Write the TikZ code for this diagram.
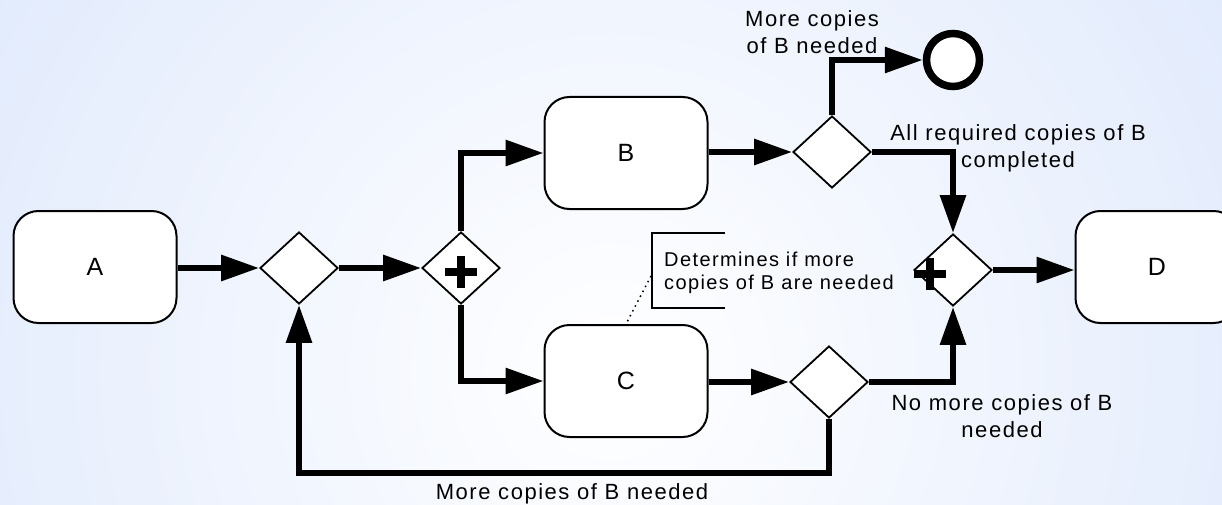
\documentclass[tikz,border=0pt]{standalone}
\usepackage{fontspec}
\setmainfont{Liberation Sans}
\newfontfamily\lblfont[LetterSpace=7]{Liberation Sans}
\usetikzlibrary{shapes.geometric,arrows.meta}
\definecolor{bgblue}{RGB}{210,224,251}
\tikzset{
  task/.style={draw, line width=2pt, fill=white, rounded corners=25pt,
    minimum width=163pt, minimum height=112pt, inner sep=0pt,
    font=\fontsize{25}{30}\selectfont},
  gateway/.style={draw, diamond, line width=1.8pt, fill=white, inner sep=0pt,
    minimum width=78pt, minimum height=72pt},
  endevent/.style={draw, circle, line width=7.5pt, fill=white, inner sep=0pt,
    minimum size=53pt},
  flow/.style={line width=6pt, -{Triangle[length=38pt,width=25pt]}},
  lbl/.style={inner sep=0pt, align=center, font=\lblfont\fontsize{22}{27}\selectfont},
  annot/.style={inner sep=0pt, align=left, font=\lblfont\fontsize{20}{23}\selectfont},
  plussign/.pic={\draw[line width=7.5pt] (-16,0) -- (16,0) (0,-16) -- (0,16);}
}
\begin{document}
\begin{tikzpicture}[x=1pt,y=-1pt]
\useasboundingbox (0,0) rectangle (1222,505);
\begin{scope}
  \clip (0,0) rectangle (1222,505);
  \shade[inner color=white, outer color=bgblue] (610,370) circle (1120);
\end{scope}

% nodes
\node[task] (A) at (95,267) {A};
\node[gateway] (G1) at (299,268) {};
\node[gateway] (P1) at (461,268) {};
\pic at (461,272) {plussign};
\node[task] (B) at (626,153) {B};
\node[task] (C) at (626,381) {C};
\node[gateway] (GB) at (832,152) {};
\node[gateway] (GC) at (829,382) {};
\node[endevent] (E) at (953,60) {};
\node[gateway] (M) at (953,270) {};
\pic at (930,274) {plussign};
\node[task] (D) at (1157,267) {D};

% flows
\draw[flow] (A.east |- G1.west) -- (G1.west);
\draw[flow] (G1.east) -- (P1.west);
\draw[flow] (P1.north) |- (B.west);
\draw[flow] (P1.south) |- (C.west);
\draw[flow] (B.east |- GB.west) -- (GB.west);
\draw[flow] (C.east |- GC.west) -- (GC.west);
\draw[flow] (GB.north) |- (E.west);
\draw[flow] (GB.east) -| (M.north);
\draw[flow] (GC.east) -| (M.south);
\draw[flow] (GC.south) -- (GC.south |- 0,473) -| (G1.south);
\draw[flow] (M.east) -- (M.east -| D.west);

% annotation
\draw[line width=2pt] (725,233) -- (652,233) -- (652,308) -- (725,308);
\coordinate (ann) at (651,276);
\draw[line width=1.5pt, dash pattern=on 1.5pt off 4pt] (ann) -- (C.north);
\node[annot, anchor=west] (annt) at (664,273) {Determines if more\\copies of B are needed};

% labels
\node[lbl] (l1) at (812,32.5) {More copies\\of B needed};
\node[lbl] (l2) at (1018,148) {All required copies of B\\completed};
\node[lbl] (l3) at (1002,416) {No more copies of B\\needed};
\node[lbl, anchor=base] (l4) at (572,499) {More copies of B needed};
\end{tikzpicture}
\end{document}
